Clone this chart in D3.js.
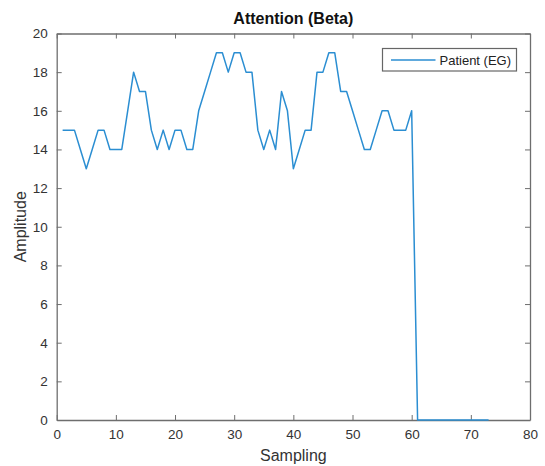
<!DOCTYPE html>
<html><head><meta charset="utf-8">
<script src="https://cdn.jsdelivr.net/npm/d3@7"></script>
<style>html,body{margin:0;padding:0;background:#fff;} svg{display:block;font-family:"Liberation Sans",Arial,sans-serif;}</style>
</head><body>
<script>
const title = "Attention (Beta)";
const seriesName = "Patient (EG)";
const xLabel = "Sampling";
const yLabel = "Amplitude";
const sampling = [1,2,3,4,5,6,7,8,9,10,11,12,13,14,15,16,17,18,19,20,21,22,23,24,25,26,27,28,29,30,31,32,33,34,35,36,37,38,39,40,41,42,43,44,45,46,47,48,49,50,51,52,53,54,55,56,57,58,59,60,61,62,63,64,65,66,67,68,69,70,71,72,73];
const amplitude = [15,15,15,14,13,14,15,15,14,14,14,16,18,17,17,15,14,15,14,15,15,14,14,16,17,18,19,19,18,19,19,18,18,15,14,15,14,17,16,13,14,15,15,18,18,19,19,17,17,16,15,14,14,15,16,16,15,15,15,16,0,0,0,0,0,0,0,0,0,0,0,0,0];
const xTicks = [0,10,20,30,40,50,60,70,80];
const yTicks = [0,2,4,6,8,10,12,14,16,18,20];

const W = 545, H = 466;
const m = {left: 56.7, right: W - 530, top: 33.5, bottom: H - 420};
const svg = d3.select("body").append("svg").attr("width", W).attr("height", H);
const x = d3.scaleLinear().domain([0, 80]).range([m.left, W - m.right]);
const y = d3.scaleLinear().domain([0, 20]).range([H - m.bottom, m.top]);
const axisColor = "#6e6e6e", textColor = "#333";
const lineColor = "#2b8ed2";

function styleAxis(g, showText) {
  g.select(".domain").attr("stroke", axisColor).attr("stroke-width", 1.3);
  g.selectAll(".tick line").attr("stroke", axisColor).attr("stroke-width", 1);
  g.selectAll(".tick text").attr("fill", textColor).attr("font-size", 13.5).style("display", showText ? null : "none");
}
const fmt = d3.format("d");
svg.append("g").attr("transform", `translate(0,${y(0)})`)
  .call(d3.axisBottom(x).tickValues(xTicks).tickFormat(fmt).tickSizeInner(-5).tickSizeOuter(0).tickPadding(9))
  .call(g => styleAxis(g, true));
svg.append("g").attr("transform", `translate(0,${y(20)})`)
  .call(d3.axisTop(x).tickValues(xTicks).tickFormat(fmt).tickSizeInner(-5).tickSizeOuter(0))
  .call(g => styleAxis(g, false));
svg.append("g").attr("transform", `translate(${x(0)},0)`)
  .call(d3.axisLeft(y).tickValues(yTicks).tickFormat(fmt).tickSizeInner(-5).tickSizeOuter(0).tickPadding(9))
  .call(g => styleAxis(g, true));
svg.append("g").attr("transform", `translate(${x(80)},0)`)
  .call(d3.axisRight(y).tickValues(yTicks).tickFormat(fmt).tickSizeInner(-5).tickSizeOuter(0))
  .call(g => styleAxis(g, false));

const line = d3.line().x((d, i) => x(sampling[i])).y(d => y(d));
svg.append("path").datum(amplitude).attr("d", line)
  .attr("fill", "none").attr("stroke", lineColor).attr("stroke-width", 1.5).attr("stroke-linejoin", "round");

svg.append("text").attr("x", (x(0) + x(80)) / 2).attr("y", 24).attr("text-anchor", "middle")
  .attr("font-size", 16).attr("font-weight", "bold").attr("fill", "#111").text(title);
svg.append("text").attr("x", (x(0) + x(80)) / 2).attr("y", 461).attr("text-anchor", "middle")
  .attr("font-size", 16).attr("fill", textColor).text(xLabel);
svg.append("text").attr("transform", `translate(26,${(y(0) + y(20)) / 2}) rotate(-90)`).attr("text-anchor", "middle")
  .attr("font-size", 16).attr("fill", textColor).text(yLabel);

const lg = svg.append("g");
lg.append("rect").attr("x", 382.5).attr("y", 48.5).attr("width", 134).attr("height", 22.5)
  .attr("fill", "#fff").attr("stroke", "#666").attr("stroke-width", 1.2);
lg.append("line").attr("x1", 391).attr("x2", 435.5).attr("y1", 60).attr("y2", 60)
  .attr("stroke", lineColor).attr("stroke-width", 1.5);
lg.append("text").attr("x", 439.5).attr("y", 64.5).attr("font-size", 13).attr("fill", "#222").text(seriesName);
</script>
</body></html>
